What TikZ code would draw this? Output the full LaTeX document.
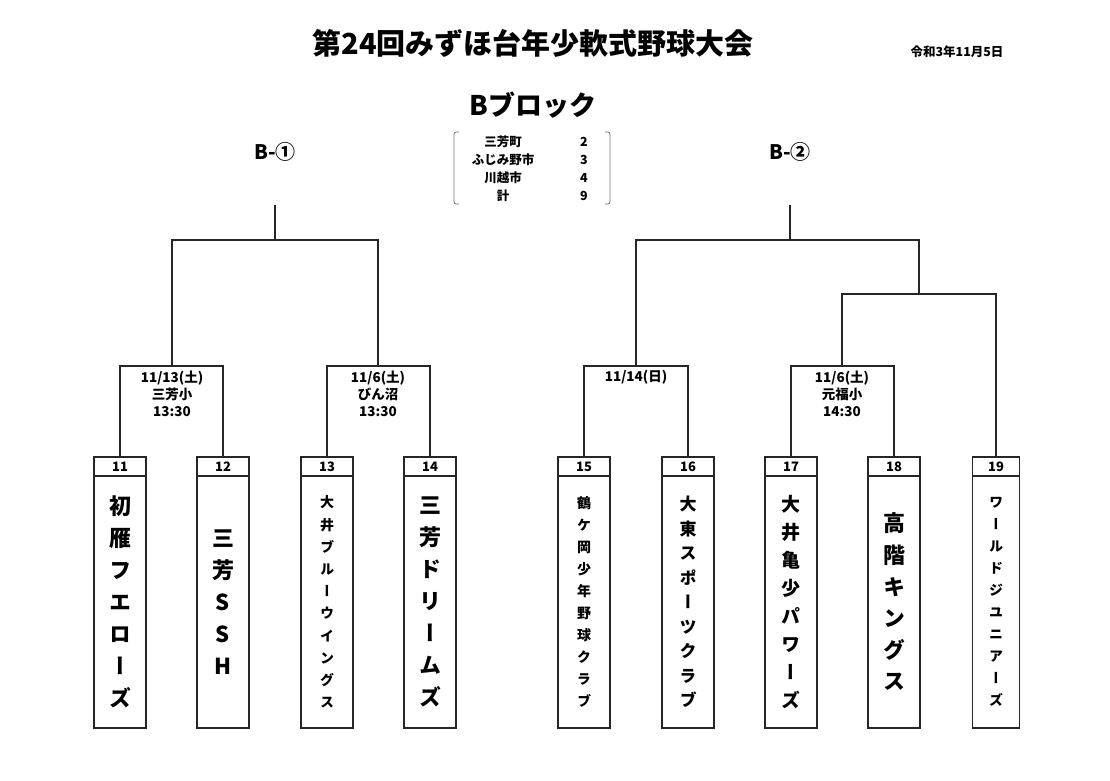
\documentclass[tikz,border=0pt]{standalone}
\usepackage{fontspec}
\setmainfont{Noto Sans CJK JP}
\newfontfamily\tatefont{Noto Sans CJK JP}[RawFeature=+vert]
\usetikzlibrary{positioning}

\begin{document}
\begin{tikzpicture}[x=1pt, y=-1pt,
        line/.style={line width=1.5pt, draw=black!85},
        paren/.style={line width=0.8pt, draw=black!55},
        numbox/.style={rectangle, draw=black!85, line width=1.5pt, outer sep=0pt, inner sep=0pt, minimum width=52pt, minimum height=19pt, font=\bfseries\fontsize{13}{13}\selectfont},
        namebox/.style={rectangle, draw=black!85, line width=1.5pt, outer sep=0pt, inner sep=0pt, minimum width=52pt, minimum height=252pt, align=center},
        game/.style={align=center, font=\bfseries\fontsize{13.5}{17}\selectfont},
        tally/.style={font=\bfseries\fontsize{12.5}{12.5}\selectfont},
        subtitle/.style={font=\bfseries\fontsize{20}{20}\selectfont}
    ]
        \useasboundingbox (0,0) rectangle (1110,780);

        % title
        \node[font=\bfseries\fontsize{29}{29}\selectfont] (title) at (533,43) {第24回みずほ台年少軟式野球大会};
        \node[font=\bfseries\fontsize{12.5}{12.5}\selectfont] (date) at (957,52) {令和3年11月5日};
        \node[font=\bfseries\fontsize{27}{27}\selectfont] (block) at (533,105) {Bブロック};
        \node[subtitle] (sub1) at (275,152) {B-①};
        \node[subtitle] (sub2) at (790,152) {B-②};

        % tally
        \node[tally] (c1) at (503,142) {三芳町};
        \node[tally] (v1) at (584,142) {2};
        \node[tally] (c2) at (503,160) {ふじみ野市};
        \node[tally] (v2) at (584,160) {3};
        \node[tally] (c3) at (503,178) {川越市};
        \node[tally] (v3) at (584,178) {4};
        \node[tally] (c4) at (503,196) {計};
        \node[tally] (v4) at (584,196) {9};
        \draw[paren] (459,132) .. controls (454,132) .. (454,137) -- (454,199) .. controls (454,204) .. (459,204);
        \draw[paren] (605,132) .. controls (610,132) .. (610,137) -- (610,199) .. controls (610,204) .. (605,204);

        % teams
        \node[numbox] (n11) at (120,466.5) {11};
        \node[numbox] (n12) at (223,466.5) {12};
        \node[numbox] (n13) at (327,466.5) {13};
        \node[numbox] (n14) at (430,466.5) {14};
        \node[numbox] (n15) at (584,466.5) {15};
        \node[numbox] (n16) at (688,466.5) {16};
        \node[numbox] (n17) at (791,466.5) {17};
        \node[numbox] (n18) at (894,466.5) {18};
        \node[numbox, minimum width=47pt] (n19) at (996,466.5) {19};

        \node[namebox, below=0pt of n11, font=\tatefont\bfseries\fontsize{22}{32}\selectfont] (t11) {初\\雁\\フ\\エ\\ロ\\ー\\ズ};
        \node[namebox, below=0pt of n12, font=\tatefont\bfseries\fontsize{22}{32}\selectfont] (t12) {三\\芳\\S\\S\\H};
        \node[namebox, below=0pt of n13, font=\tatefont\bfseries\fontsize{14}{22.2}\selectfont] (t13) {大\\井\\ブ\\ル\\ー\\ウ\\イ\\ン\\グ\\ス};
        \node[namebox, below=0pt of n14, font=\tatefont\bfseries\fontsize{22}{32}\selectfont] (t14) {三\\芳\\ド\\リ\\ー\\ム\\ズ};
        \node[namebox, below=0pt of n15, font=\tatefont\bfseries\fontsize{14}{22}\selectfont] (t15) {鶴\\ケ\\岡\\少\\年\\野\\球\\ク\\ラ\\ブ};
        \node[namebox, below=0pt of n16, font=\tatefont\bfseries\fontsize{17}{24.5}\selectfont] (t16) {大\\東\\ス\\ポ\\ー\\ツ\\ク\\ラ\\ブ};
        \node[namebox, below=0pt of n17, font=\tatefont\bfseries\fontsize{19}{28}\selectfont] (t17) {大\\井\\亀\\少\\パ\\ワ\\ー\\ズ};
        \node[namebox, below=0pt of n18, font=\tatefont\bfseries\fontsize{22}{31.6}\selectfont] (t18) {高\\階\\キ\\ン\\グ\\ス};
        \node[namebox, below=0pt of n19, minimum width=47pt, font=\tatefont\bfseries\fontsize{14}{22}\selectfont] (t19) {ワ\\ー\\ル\\ド\\ジ\\ユ\\ニ\\ア\\ー\\ズ};

        % games
        \node[game] (g1) at (172,394) {11/13(土)\\三芳小\\13:30};
        \node[game] (g2) at (378,394) {11/6(土)\\びん沼\\13:30};
        \node[game] (g3) at (636,377) {11/14(日)};
        \node[game] (g4) at (842,394) {11/6(土)\\元福小\\14:30};

        % brackets
        \coordinate (m1) at (172,366);
        \coordinate (m2) at (378,366);
        \coordinate (m3) at (636,366);
        \coordinate (m4) at (842,366);
        \coordinate (m5) at (919,294);
        \coordinate (s1) at (275,240);
        \coordinate (s2) at (790,240);
        \coordinate (top1) at (275,205);
        \coordinate (top2) at (790,205);

        \draw[line] (n11.north) |- (m1) -| (n12.north);
        \draw[line] (n13.north) |- (m2) -| (n14.north);
        \draw[line] (m1) |- (s1) -| (m2);
        \draw[line] (s1) -- (top1);
        \draw[line] (n15.north) |- (m3) -| (n16.north);
        \draw[line] (n17.north) |- (m4) -| (n18.north);
        \draw[line] (m4) |- (m5) -| (n19.north);
        \draw[line] (m3) |- (s2) -| (m5);
        \draw[line] (s2) -- (top2);
    \end{tikzpicture}
\end{document}
